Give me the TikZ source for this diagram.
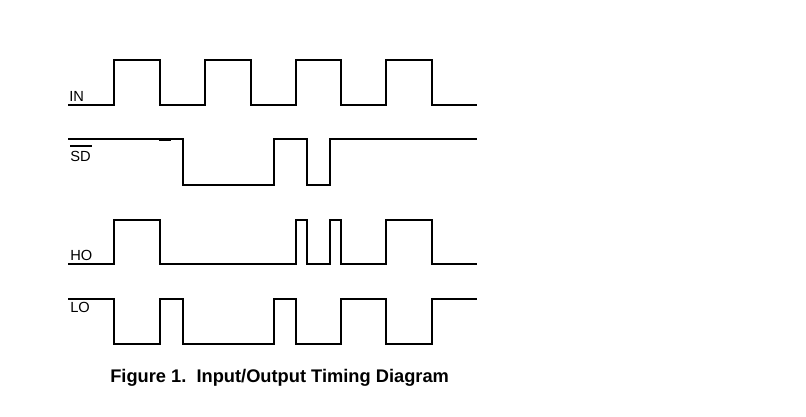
\documentclass[tikz,border=0pt]{standalone}
\usepackage{fontspec}
\setmainfont{Liberation Sans}
\begin{document}
\begin{tikzpicture}
[x=0.75pt,y=-0.75pt,%
  wave/.style={line width=1.5pt,line join=miter},%
  every node/.style={inner sep=0pt,font=\fontsize{11}{13}\selectfont}]
\useasboundingbox (0,0) rectangle (806,417);
% signal names
\node[anchor=base west] (in) at (69,101.7) {IN};
\node[anchor=base west] (sd) at (70,161.7) {SD};
\draw[line width=1pt] ([xshift=0pt,yshift=3.9pt]sd.north west) -- ([xshift=1pt,yshift=3.9pt]sd.north east);
\node[anchor=base west] (ho) at (70,260.7) {HO};
\node[anchor=base west] (lo) at (70,312.7) {LO};
% waveforms
\draw[wave] (68,105) -- (114,105) -- (114,60) -- (159.5,60) -- (159.5,105)
  -- (204.5,105) -- (204.5,60) -- (250.5,60) -- (250.5,105)
  -- (295.5,105) -- (295.5,60) -- (341,60) -- (341,105)
  -- (386,105) -- (386,60) -- (431.5,60) -- (431.5,105) -- (477,105);
\draw[wave] (68,139.5) -- (182.5,139.5) -- (182.5,184.5) -- (273.5,184.5)
  -- (273.5,139.5) -- (307,139.5) -- (307,184.5) -- (329.5,184.5)
  -- (329.5,139.5) -- (477,139.5);
\draw[line width=2.4pt] (159,139.5) -- (171,139.5);
\draw[wave] (68,264) -- (114,264) -- (114,219.5) -- (159.5,219.5) -- (159.5,264)
  -- (295.5,264) -- (295.5,219.5) -- (307,219.5) -- (307,264)
  -- (329.5,264) -- (329.5,219.5) -- (341,219.5) -- (341,264)
  -- (386,264) -- (386,219.5) -- (431.5,219.5) -- (431.5,264) -- (477,264);
\draw[wave] (68,298.5) -- (114,298.5) -- (114,344) -- (159.5,344) -- (159.5,298.5)
  -- (182.5,298.5) -- (182.5,344) -- (273.5,344) -- (273.5,298.5)
  -- (295.5,298.5) -- (295.5,344) -- (341,344) -- (341,298.5)
  -- (386,298.5) -- (386,344) -- (431.5,344) -- (431.5,298.5) -- (477,298.5);
% caption
\node[anchor=base west,font=\fontsize{13.7}{16}\selectfont\bfseries] (caption) at (110,382.7)
  {Figure 1.\ \ Input/Output Timing Diagram};
\end{tikzpicture}
\end{document}
